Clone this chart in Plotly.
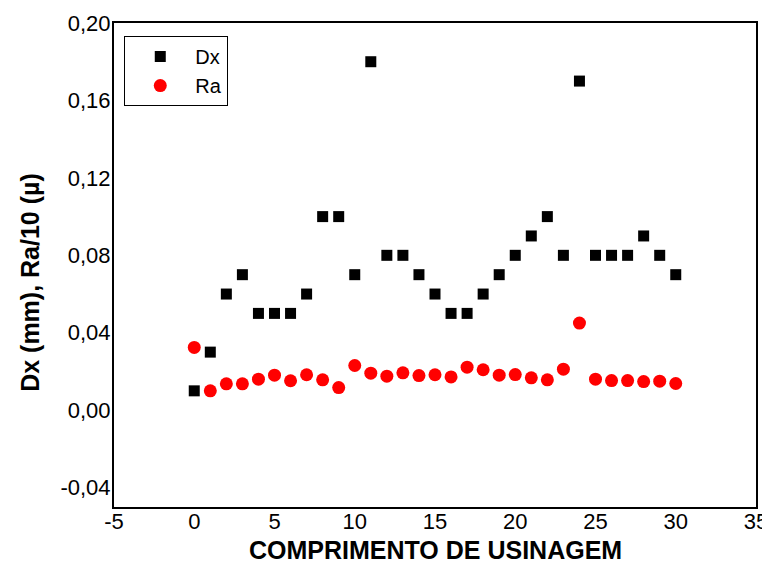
import plotly.graph_objects as go

x_vals = list(range(0, 31))
dx_vals = [0.01, 0.03, 0.06, 0.07, 0.05, 0.05, 0.05, 0.06, 0.10, 0.10,
           0.07, 0.18, 0.08, 0.08, 0.07, 0.06, 0.05, 0.05, 0.06, 0.07,
           0.08, 0.09, 0.10, 0.08, 0.17, 0.08, 0.08, 0.08, 0.09, 0.08, 0.07]
ra_vals = [0.0324, 0.0100, 0.0136, 0.0136, 0.0160, 0.0181, 0.0152, 0.0183, 0.0157, 0.0117,
           0.0231, 0.0191, 0.0176, 0.0193, 0.0179, 0.0183, 0.0172, 0.0222, 0.0209, 0.0181,
           0.0184, 0.0167, 0.0157, 0.0212, 0.0450, 0.0160, 0.0153, 0.0153, 0.0148, 0.0150, 0.0138]
y_ticks = [-0.04, 0.00, 0.04, 0.08, 0.12, 0.16, 0.20]
y_tick_labels = ["-0,04", "0,00", "0,04", "0,08", "0,12", "0,16", "0,20"]
x_ticks = [-5, 0, 5, 10, 15, 20, 25, 30, 35]
x_tick_labels = ["-5", "0", "5", "10", "15", "20", "25", "30", "35"]

font_family = "Liberation Sans, Arial, sans-serif"

fig = go.Figure()
fig.add_trace(go.Scatter(x=x_vals, y=dx_vals, mode="markers", name="Dx",
                         marker=dict(symbol="square", size=11, color="black")))
fig.add_trace(go.Scatter(x=x_vals, y=ra_vals, mode="markers", name="Ra",
                         marker=dict(symbol="circle", size=13, color="#ff0000")))

fig.update_layout(
    width=762, height=556,
    margin=dict(l=106, r=14, t=15, b=57),
    plot_bgcolor="white", paper_bgcolor="white",
    font=dict(family=font_family, color="black", size=22),
    showlegend=True,
    legend=dict(x=0.016, y=0.973, xanchor="left", yanchor="top",
                bordercolor="black", borderwidth=1, bgcolor="white",
                font=dict(size=20), itemwidth=60, tracegroupgap=0),
    xaxis=dict(range=[-5, 35], tickvals=x_ticks, ticktext=x_tick_labels,
               showgrid=False, zeroline=False, automargin=False,
               showline=True, linecolor="black", linewidth=2, mirror=True,
               ticks="", tickfont=dict(size=22), ticklabelstandoff=-6),
    yaxis=dict(range=[-0.05, 0.2], tickvals=y_ticks, ticktext=y_tick_labels,
               showgrid=False, zeroline=False, automargin=False,
               showline=True, linecolor="black", linewidth=2, mirror=True,
               ticks="", tickfont=dict(size=22), ticklabelstandoff=-3),
    annotations=[
        dict(text="<b>COMPRIMENTO DE USINAGEM</b>", xref="paper", yref="paper",
             x=0.5, y=-0.088, xanchor="center", yanchor="middle", showarrow=False,
             font=dict(size=25)),
        dict(text="<b>Dx (mm), Ra/10 (µ)</b>", xref="paper", yref="paper",
             x=-0.131, y=0.465, xanchor="center", yanchor="middle", showarrow=False,
             textangle=-90, font=dict(size=25)),
    ],
)

fig.write_html("out.html")
